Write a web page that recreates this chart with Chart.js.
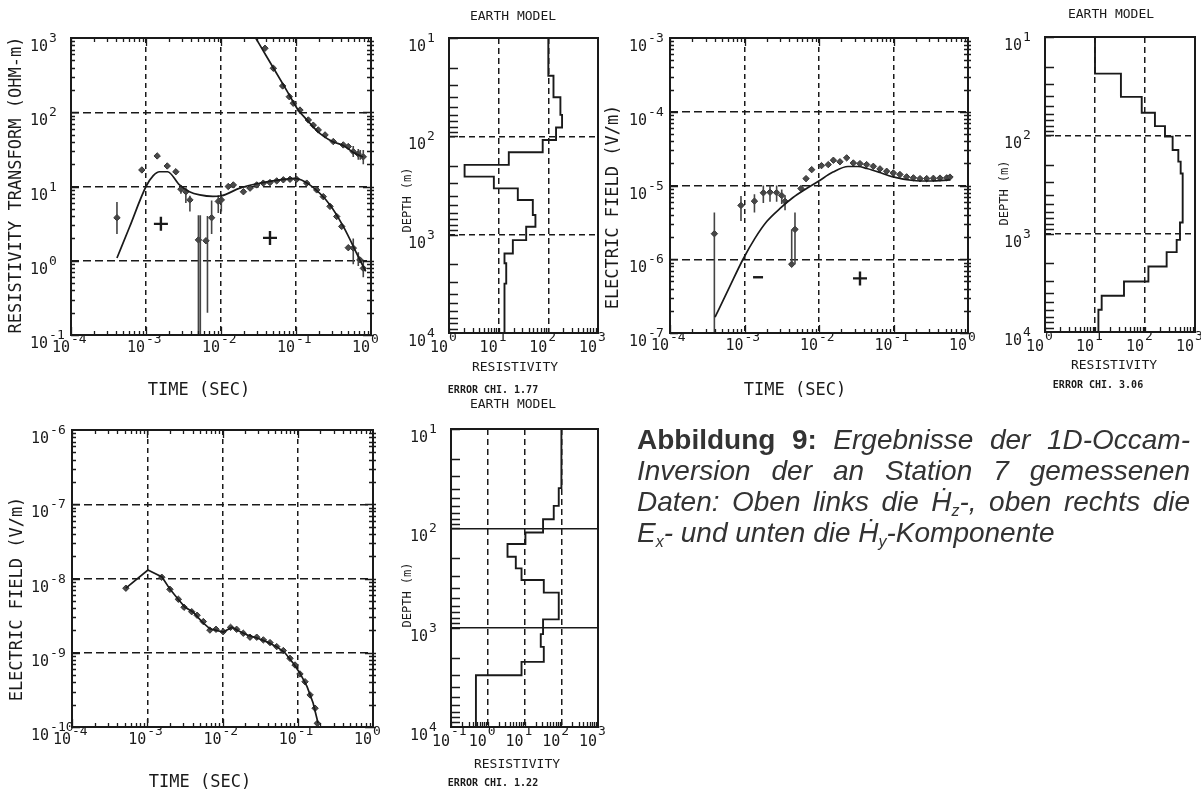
<!DOCTYPE html>
<html>
<head>
<meta charset="utf-8">
<script src="https://cdn.jsdelivr.net/npm/chart.js@4.4.0/dist/chart.umd.min.js"></script>
<style>
html, body { margin: 0; padding: 0; background: #fff; }
#page { position: relative; width: 1201px; height: 792px; overflow: hidden; }
canvas { position: absolute; left: 0; top: 0; }
.cap { position: absolute; left: 637px; width: 553px; height: 31px; font-family: "Liberation Sans", Arial, sans-serif; font-size: 28px; line-height: 31px; color: #333; font-style: italic; text-align: justify; text-align-last: justify; }
.cap b { font-style: normal; }
.cap sub { font-size: 16px; vertical-align: -5px; line-height: 0; }
.cap.last { text-align-last: left; }
</style>
</head>
<body>
<div id="page">
  <canvas id="c1" width="1201" height="792"></canvas>
  <canvas id="c2" width="1201" height="792"></canvas>
  <canvas id="c3" width="1201" height="792"></canvas>
  <canvas id="c4" width="1201" height="792"></canvas>
  <canvas id="c5" width="1201" height="792"></canvas>
  <canvas id="c6" width="1201" height="792"></canvas>
  <div class="cap" style="top:424px"><b>Abbildung 9:</b> Ergebnisse der 1D-Occam-</div>
  <div class="cap" style="top:455px">Inversion der an Station 7 gemessenen</div>
  <div class="cap" style="top:486px">Daten: Oben links die Ḣ<sub>z</sub>-, oben rechts die</div>
  <div class="cap last" style="top:517px">E<sub>x</sub>- und unten die Ḣ<sub>y</sub>-Komponente</div>
</div>
<script>
// ---- Hz: resistivity transform (top left) ----
const hzFitUpT = [0.029, 0.04, 0.055, 0.075, 0.107, 0.14, 0.185, 0.23, 0.31, 0.42, 0.575, 0.78];
const hzFitUpR = [1000, 577, 335, 197, 107, 79, 58, 48, 40, 36, 29, 25];
const hzFitLoT = [4.1e-4, 6e-4, 1e-3, 1.25e-3, 1.52e-3, 1.94e-3, 2.8e-3, 3.8e-3, 5.2e-3, 7.8e-3, 0.0102, 0.0178, 0.0331, 0.061, 0.0968, 0.153, 0.284, 0.427, 0.71, 0.85];
const hzFitLoR = [1.09, 2.8, 10, 14, 15.8, 15.8, 10.5, 8.5, 7.7, 7.35, 7.5, 9.5, 11.1, 12.3, 12.9, 10.5, 5.65, 2.9, 1.03, 0.72];
const hzUpT = [0.0386, 0.0499, 0.0664, 0.0814, 0.092, 0.113, 0.146, 0.17, 0.198, 0.244, 0.314, 0.427, 0.498, 0.58, 0.677, 0.789];
const hzUpR = [727, 391, 226, 162, 132, 107, 78.7, 67, 57.8, 49.5, 40.3, 36.3, 34.5, 29.5, 27.4, 25.1];
const hzLoT = [4.1e-4, 8.8e-4, 1.41e-3, 1.92e-3, 2.5e-3, 2.92e-3, 3.4e-3, 3.85e-3, 5.0e-3, 6.3e-3, 7.5e-3, 9.2e-3, 0.0101, 0.0125, 0.0146, 0.0199,
  0.0244, 0.0299, 0.0366, 0.045, 0.0553, 0.0678, 0.0832, 0.102, 0.139, 0.189, 0.231, 0.284, 0.349, 0.407, 0.498, 0.581, 0.71, 0.79];
const hzLoR = [3.8, 16.7, 25.8, 18.9, 15.8, 9.2, 8.5, 6.6, 1.91, 1.86, 3.8, 6.3, 6.6, 10, 10.5, 8.5,
  9.5, 10.5, 11.1, 11.3, 11.9, 12.3, 12.5, 12.5, 11.1, 9, 7.3, 5.4, 3.94, 2.9, 1.5, 1.48, 1.03, 0.79];
const hzBarT = [4.1e-4, 2.92e-3, 3.4e-3, 3.85e-3, 5.0e-3, 5.3e-3, 6.6e-3, 7.5e-3, 9.2e-3, 0.0101, 0.58, 0.677, 0.789];
const hzBarLo = [2.3, 8.0, 6.0, 4.6, 0.01, 0.01, 0.2, 2.3, 4.4, 4.6, 0.9, 0.85, 0.6];
const hzBarHi = [6.2, 10.5, 9.5, 7.5, 4.1, 4.1, 4.0, 6.5, 7.6, 8.0, 2.0, 1.3, 1.0];
const hzBar2T = [0.58, 0.677, 0.72, 0.789];
const hzBar2Lo = [25, 23, 23, 20];
const hzBar2Hi = [35, 32, 31, 31];
const hzSignT = [1.58e-3, 0.045];
const hzSignR = [3.14, 2.03];

// ---- Earth model 1 (Hz) ----
const em1Rho = [100, 127, 175, 189, 143, 77, 16, 2.06, 8.0, 24.3, 48.7, 55, 35.8, 19.3, 13.1, 14.2, 13.1];
const em1Depth = [10, 24.2, 40, 60.5, 81.4, 109, 145, 195, 257, 338, 444, 631, 831, 1137, 1556, 1950, 3150, 10000];

// ---- Ex: electric field (top right) ----
const exFitT = [4.02e-4, 6.19e-4, 9.55e-4, 1.38e-3, 2.0e-3, 3.0e-3, 4.48e-3, 6.49e-3, 9.7e-3, 0.0154, 0.0245, 0.0334, 0.044, 0.0659, 0.0955, 0.183, 0.309, 0.573];
const exFitE = [1.64e-7, 4.05e-7, 1.0e-6, 1.92e-6, 3.27e-6, 4.89e-6, 6.88e-6, 8.83e-6, 1.13e-5, 1.52e-5, 1.81e-5, 1.81e-5, 1.7e-5, 1.5e-5, 1.32e-5, 1.17e-5, 1.15e-5, 1.19e-5];
const exT = [3.94e-4, 8.97e-4, 1.36e-3, 1.79e-3, 2.2e-3, 2.7e-3, 3.16e-3, 3.5e-3, 4.3e-3, 4.76e-3, 5.73e-3, 6.7e-3, 7.98e-3,
  0.0108, 0.0133, 0.0156, 0.0191, 0.0235, 0.0289, 0.0355, 0.0436, 0.0536, 0.0659, 0.081, 0.0995, 0.122, 0.15, 0.185, 0.227, 0.279, 0.343, 0.421, 0.518, 0.573];
const exE = [2.22e-6, 5.37e-6, 6.14e-6, 7.96e-6, 8.1e-6, 8.0e-6, 7.3e-6, 6.1e-6, 8.55e-7, 2.54e-6, 9.1e-6, 1.24e-5, 1.64e-5,
  1.86e-5, 1.92e-5, 2.2e-5, 2.1e-5, 2.37e-5, 2.02e-5, 1.98e-5, 1.92e-5, 1.82e-5, 1.68e-5, 1.56e-5, 1.48e-5, 1.41e-5, 1.31e-5, 1.27e-5, 1.24e-5, 1.24e-5, 1.25e-5, 1.26e-5, 1.27e-5, 1.3e-5];
const exBarT = [3.94e-4, 8.97e-4, 1.36e-3, 1.79e-3, 2.2e-3, 2.7e-3, 3.16e-3, 3.5e-3, 4.3e-3, 4.76e-3, 0.279, 0.343, 0.421, 0.518, 0.573];
const exBarLo = [1e-8, 3.3e-6, 4.3e-6, 5.8e-6, 6.0e-6, 6.0e-6, 5.6e-6, 4.6e-6, 8.55e-7, 8.55e-7, 1.13e-5, 1.14e-5, 1.15e-5, 1.16e-5, 1.18e-5];
const exBarHi = [4.3e-6, 7.2e-6, 7.6e-6, 1.0e-5, 1.0e-5, 1.0e-5, 8.8e-6, 7.4e-6, 2.54e-6, 4.3e-6, 1.36e-5, 1.37e-5, 1.38e-5, 1.39e-5, 1.42e-5];
const exMinusT = [1.52e-3];
const exMinusE = [5.7e-7];
const exPlusT = [0.0355];
const exPlusE = [5.5e-7];

// ---- Earth model 2 (Ex) ----
const em2Rho = [10, 33, 86, 158, 251, 357, 464, 517, 567, 501, 430, 271, 117, 38, 13.6, 11.7];
const em2Depth = [10, 23.6, 40.6, 59, 80.6, 103, 141, 185, 244, 771, 1156, 1542, 2157, 3060, 4276, 5930, 10000];

// ---- Hy: electric field (bottom left) ----
const hyFitT = [5.2e-4, 1.02e-3, 1.57e-3, 2.0e-3, 2.56e-3, 3.18e-3, 4.06e-3, 5.35e-3, 6.8e-3, 0.0102, 0.0134, 0.016, 0.0212, 0.0287, 0.039, 0.053, 0.0676, 0.0865, 0.107, 0.133, 0.16, 0.186];
const hyFitE = [7.4e-9, 1.3e-8, 1.05e-8, 7.2e-9, 5.3e-9, 4.1e-9, 3.55e-9, 2.6e-9, 2.1e-9, 1.9e-9, 2.2e-9, 2.0e-9, 1.74e-9, 1.58e-9, 1.4e-9, 1.2e-9, 1.0e-9, 7.3e-10, 5.3e-10, 3.5e-10, 2.1e-10, 1.13e-10];
const hyT = [5.2e-4, 1.56e-3, 2.0e-3, 2.59e-3, 3.08e-3, 3.9e-3, 4.6e-3, 5.56e-3, 6.8e-3, 8.2e-3, 0.0102, 0.0128, 0.0154, 0.0189, 0.0232, 0.0285, 0.0349, 0.0428, 0.0525, 0.0643, 0.0789, 0.092, 0.107, 0.125, 0.146, 0.17, 0.182];
const hyE = [7.4e-9, 1.04e-8, 7.15e-9, 5.25e-9, 4.1e-9, 3.57e-9, 3.2e-9, 2.63e-9, 2.02e-9, 2.07e-9, 1.92e-9, 2.2e-9, 2.07e-9, 1.83e-9, 1.62e-9, 1.62e-9, 1.49e-9, 1.37e-9, 1.21e-9, 1.07e-9, 8.4e-10, 6.84e-10, 5.18e-10, 4.07e-10, 2.7e-10, 1.79e-10, 1.12e-10];

// ---- Earth model 3 (Hy) ----
const em3Rho = [101, 85.5, 62.5, 32, 10.6, 3.45, 5.8, 8.3, 33.5, 85.5, 32, 27.7, 33.5, 8.3, 0.477];
const em3Depth = [10, 39.4, 59.4, 81, 110, 144, 193, 253, 331, 444, 826, 1161, 1560, 2210, 3010, 10000];

const INK = '#1a1a1a';
const DOT = '#4a4a4a';
const MONO = '"DejaVu Sans Mono", monospace';

function xy(xs, ys) { return xs.map((x, i) => ({ x: x, y: ys[i] })); }

function fitLine(xs, ys, smooth) {
  return { data: xy(xs, ys), showLine: true, pointRadius: 0, borderColor: INK, borderWidth: 1.7,
    cubicInterpolationMode: smooth ? 'monotone' : 'default', tension: 0 };
}
function marks(xs, ys) {
  return { data: xy(xs, ys), showLine: false, pointStyle: 'rectRot', pointRadius: 3.2,
    backgroundColor: DOT, borderColor: '#333', borderWidth: 1 };
}
function bars(xs, lo, hi) {
  const d = [];
  xs.forEach((x, i) => { d.push({ x: x, y: lo[i] }, { x: x, y: hi[i] }, { x: x, y: null }); });
  return { data: d, showLine: true, spanGaps: false, pointRadius: 0, borderColor: '#444', borderWidth: 1.6 };
}
function signs(xs, ys, style, r) {
  return { data: xy(xs, ys), showLine: false, pointStyle: style, pointRadius: r,
    borderColor: INK, borderWidth: 2.4, backgroundColor: INK };
}
function steps(rho, depth) {
  const d = rho.map((r, i) => ({ x: r, y: depth[i] }));
  d.push({ x: rho[rho.length - 1], y: depth[depth.length - 1] });
  return { data: d, showLine: true, stepped: 'after', pointRadius: 0, borderColor: INK, borderWidth: 1.9 };
}

function decades(lo, hi) { const a = []; for (let e = lo; e <= hi; e++) a.push(Math.pow(10, e)); return a; }

function drawPowX(ctx, e, x, y, p) {
  ctx.textAlign = 'right';
  ctx.font = p.fs + 'px ' + MONO;
  ctx.fillText('10', x - 1, y + p.xBase);
  ctx.textAlign = 'left';
  ctx.font = p.fe + 'px ' + MONO;
  ctx.fillText(String(e), x, y + p.xExp);
}
function drawPowY(ctx, e, x, y, p) {
  ctx.textAlign = 'left';
  ctx.font = p.fs + 'px ' + MONO;
  ctx.fillText('10', x, y + 13);
  const w = ctx.measureText('10').width;
  ctx.font = p.fe + 'px ' + MONO;
  ctx.fillText(String(e), x + w + 1, y + 4);
}

function makeDeco(p) {
  return {
    id: 'deco_' + p.id,
    afterDraw(chart) {
      const ctx = chart.ctx, a = chart.chartArea, xs = chart.scales.x, ys = chart.scales.y;
      ctx.save();
      ctx.strokeStyle = INK;
      ctx.fillStyle = INK;
      ctx.lineWidth = 1.3;
      ctx.beginPath();
      for (let e = p.x[0]; e < p.x[1]; e++) {
        for (let k = 1; k <= 9; k++) {
          const px = Math.round(xs.getPixelForValue(k * Math.pow(10, e))) + 0.5;
          const len = k === 1 ? p.majX : p.minX;
          ctx.moveTo(px, a.bottom); ctx.lineTo(px, a.bottom - len);
          if (p.allSides) { ctx.moveTo(px, a.top); ctx.lineTo(px, a.top + len); }
        }
      }
      for (let e = p.y[0]; e < p.y[1]; e++) {
        for (let k = 1; k <= 9; k++) {
          const py = Math.round(ys.getPixelForValue(k * Math.pow(10, e))) + 0.5;
          const len = k === 1 ? p.majY : p.minY;
          ctx.moveTo(a.left, py); ctx.lineTo(a.left + len, py);
          if (p.allSides) { ctx.moveTo(a.right - len, py); ctx.lineTo(a.right + 3, py); }
        }
      }
      ctx.stroke();
      ctx.lineWidth = 2;
      ctx.strokeRect(a.left, a.top, a.right - a.left, a.bottom - a.top);

      ctx.textBaseline = 'alphabetic';
      for (let e = p.x[0]; e <= p.x[1]; e++) {
        drawPowX(ctx, e, xs.getPixelForValue(Math.pow(10, e)), a.bottom, p);
      }
      for (let e = p.y[0]; e <= p.y[1]; e++) {
        drawPowY(ctx, e, a.left - 41, ys.getPixelForValue(Math.pow(10, e)), p);
      }
      ctx.textBaseline = 'middle';
      ctx.textAlign = 'center';
      p.texts.forEach(t => {
        ctx.font = (t.bold ? 'bold ' : '') + t.size + 'px ' + MONO;
        if (t.rot) {
          ctx.save();
          ctx.translate(t.x, t.y);
          ctx.rotate(-Math.PI / 2);
          ctx.fillText(t.t, 0, 0);
          ctx.restore();
        } else {
          ctx.fillText(t.t, t.x, t.y);
        }
      });
      ctx.restore();
    }
  };
}

function makePanel(p, datasets) {
  const W = 1201, H = 792;
  const gridOf = (n, dash) => ({
    grid: { color: c => (c.index > 0 && c.index < n - 1) ? INK : 'rgba(0,0,0,0)', lineWidth: 1.5, drawTicks: false },
    border: { display: false, dash: dash }
  });
  const xDec = decades(p.x[0], p.x[1]);
  const yDec = decades(p.y[0], p.y[1]);
  new Chart(document.getElementById(p.id), {
    type: 'scatter',
    data: { datasets: datasets },
    options: {
      responsive: false, animation: false, devicePixelRatio: 1, events: [],
      layout: { padding: { left: p.area.l, top: p.area.t, right: W - p.area.r, bottom: H - p.area.b } },
      plugins: { legend: { display: false }, tooltip: { enabled: false } },
      scales: {
        x: Object.assign({
          type: 'logarithmic', min: xDec[0], max: xDec[xDec.length - 1],
          ticks: { display: false },
          afterBuildTicks: s => { s.ticks = xDec.map(v => ({ value: v })); },
          afterFit: s => { s.height = 0; }
        }, gridOf(xDec.length, p.xDash)),
        y: Object.assign({
          type: 'logarithmic', min: yDec[0], max: yDec[yDec.length - 1], reverse: !!p.rev,
          ticks: { display: false },
          afterBuildTicks: s => { s.ticks = yDec.map(v => ({ value: v })); },
          afterFit: s => { s.width = 0; }
        }, gridOf(yDec.length, p.yDash))
      }
    },
    plugins: [makeDeco(p)]
  });
}

const mainStyle = { allSides: true, majX: 8, minX: 4, majY: 8, minY: 4, fs: 15, fe: 13, xBase: 17, xExp: 8, xDash: [5, 4], yDash: [8, 4] };
const earthStyle = { allSides: false, majX: 5, minX: 5, majY: 9, minY: 9, fs: 15, fe: 13, xBase: 19, xExp: 8, xDash: [6, 4], yDash: [6, 4] };

makePanel(Object.assign({}, mainStyle, {
  id: 'c1', area: { l: 71, t: 38, r: 371, b: 335 }, x: [-4, 0], y: [-1, 3],
  texts: [
    { t: 'RESISTIVITY TRANSFORM (OHM-m)', x: 17, y: 185, size: 17, rot: true },
    { t: 'TIME (SEC)', x: 199, y: 391, size: 17 }
  ]
}), [
  signs(hzSignT, hzSignR, 'cross', 7),
  fitLine(hzFitUpT, hzFitUpR, true),
  fitLine(hzFitLoT, hzFitLoR, true),
  bars(hzBarT, hzBarLo, hzBarHi),
  bars(hzBar2T, hzBar2Lo, hzBar2Hi),
  marks(hzUpT, hzUpR),
  marks(hzLoT, hzLoR)
]);

makePanel(Object.assign({}, earthStyle, {
  id: 'c2', area: { l: 449, t: 38, r: 598, b: 333 }, x: [0, 3], y: [1, 4], rev: true,
  texts: [
    { t: 'EARTH MODEL', x: 513, y: 17, size: 13 },
    { t: 'DEPTH (m)', x: 408, y: 200, size: 12, rot: true },
    { t: 'RESISTIVITY', x: 515, y: 368, size: 13 },
    { t: 'ERROR CHI. 1.77', x: 493, y: 390, size: 10, bold: true }
  ]
}), [steps(em1Rho, em1Depth)]);

makePanel(Object.assign({}, mainStyle, {
  id: 'c3', area: { l: 670, t: 38, r: 968, b: 333 }, x: [-4, 0], y: [-7, -3],
  texts: [
    { t: 'ELECTRIC FIELD (V/m)', x: 614, y: 207, size: 17, rot: true },
    { t: 'TIME (SEC)', x: 795, y: 391, size: 17 }
  ]
}), [
  signs(exMinusT, exMinusE, 'line', 5),
  signs(exPlusT, exPlusE, 'cross', 7),
  fitLine(exFitT, exFitE, true),
  bars(exBarT, exBarLo, exBarHi),
  marks(exT, exE)
]);

makePanel(Object.assign({}, earthStyle, {
  id: 'c4', area: { l: 1045, t: 37, r: 1195, b: 332 }, x: [0, 3], y: [1, 4], rev: true,
  texts: [
    { t: 'EARTH MODEL', x: 1111, y: 15, size: 13 },
    { t: 'DEPTH (m)', x: 1005, y: 193, size: 12, rot: true },
    { t: 'RESISTIVITY', x: 1114, y: 366, size: 13 },
    { t: 'ERROR CHI. 3.06', x: 1098, y: 385, size: 10, bold: true }
  ]
}), [steps(em2Rho, em2Depth)]);

makePanel(Object.assign({}, mainStyle, {
  id: 'c5', area: { l: 72, t: 430, r: 373, b: 727 }, x: [-4, 0], y: [-10, -6],
  texts: [
    { t: 'ELECTRIC FIELD (V/m)', x: 18, y: 599, size: 17, rot: true },
    { t: 'TIME (SEC)', x: 200, y: 783, size: 17 }
  ]
}), [
  fitLine(hyFitT, hyFitE, false),
  marks(hyT, hyE)
]);

makePanel(Object.assign({}, earthStyle, {
  id: 'c6', area: { l: 451, t: 429, r: 598, b: 727 }, x: [-1, 3], y: [1, 4], rev: true, yDash: [],
  texts: [
    { t: 'EARTH MODEL', x: 513, y: 405, size: 13 },
    { t: 'DEPTH (m)', x: 408, y: 595, size: 12, rot: true },
    { t: 'RESISTIVITY', x: 517, y: 765, size: 13 },
    { t: 'ERROR CHI. 1.22', x: 493, y: 783, size: 10, bold: true }
  ]
}), [steps(em3Rho, em3Depth)]);
</script>
</body>
</html>
